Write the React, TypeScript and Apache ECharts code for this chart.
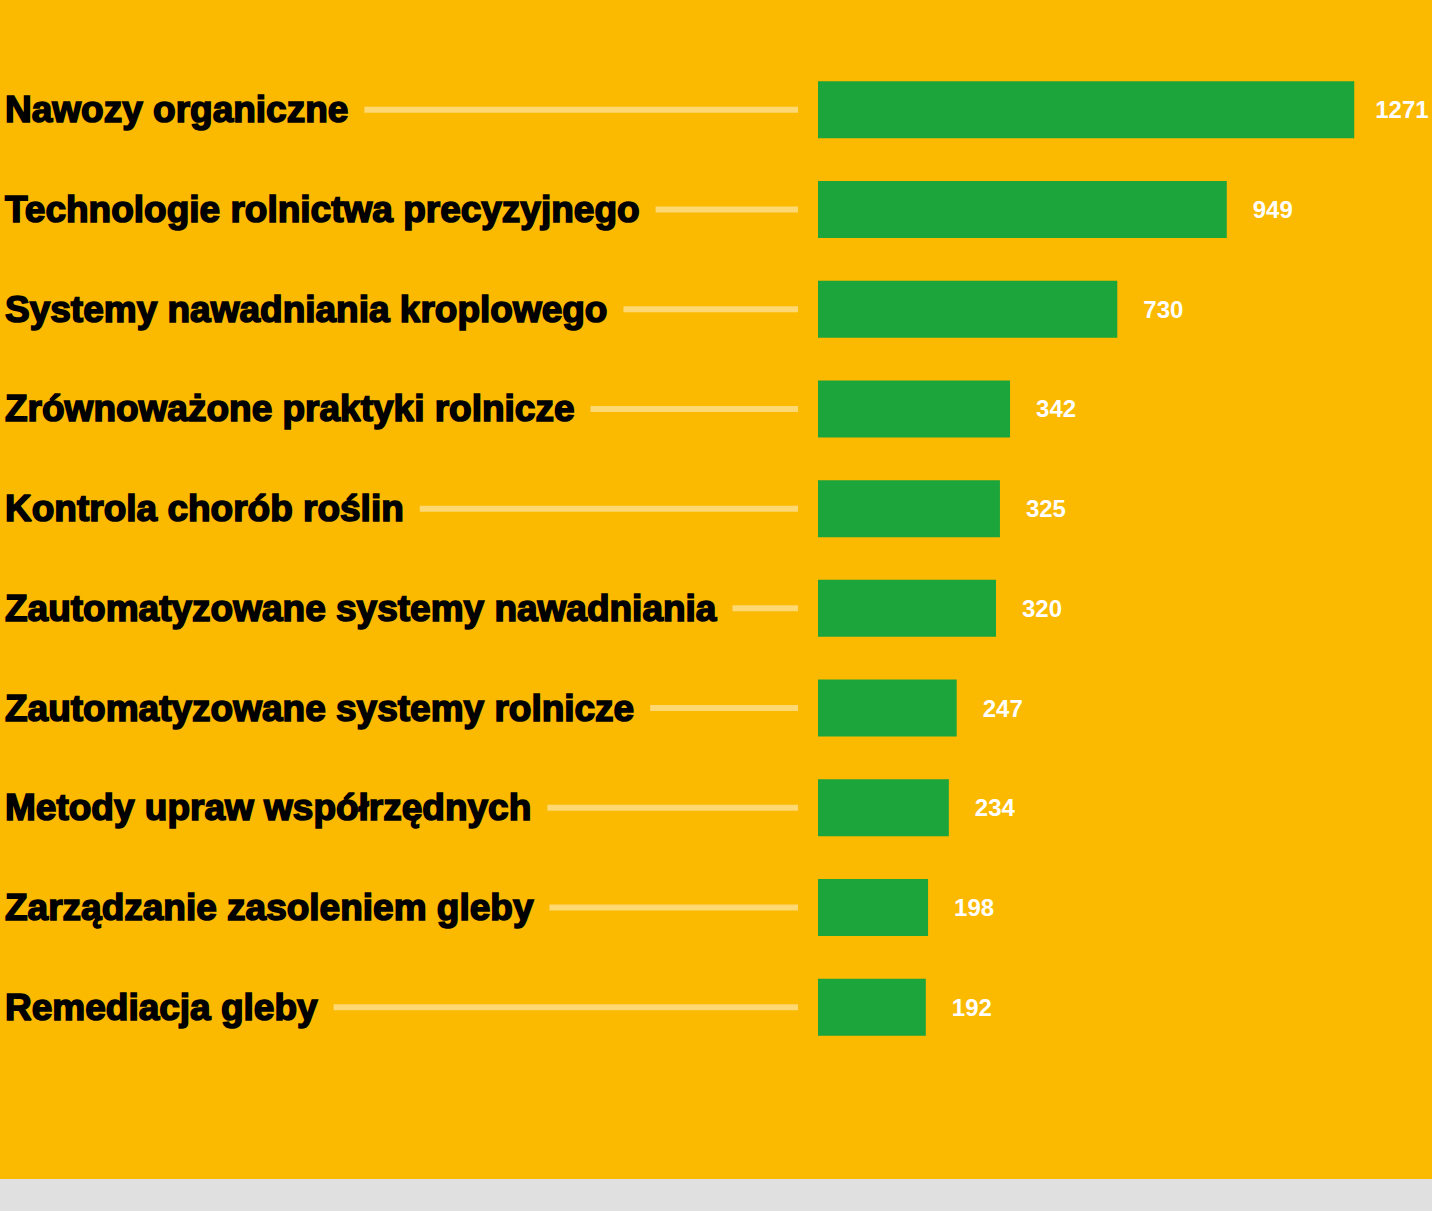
import React, { useEffect, useRef } from "react";
import * as echarts from "echarts";

const categories = [
  "Nawozy organiczne",
  "Technologie rolnictwa precyzyjnego",
  "Systemy nawadniania kroplowego",
  "Zrównoważone praktyki rolnicze",
  "Kontrola chorób roślin",
  "Zautomatyzowane systemy nawadniania",
  "Zautomatyzowane systemy rolnicze",
  "Metody upraw współrzędnych",
  "Zarządzanie zasoleniem gleby",
  "Remediacja gleby",
];
// values printed next to the bars
const values = [1271, 949, 730, 342, 325, 320, 247, 234, 198, 192];
// bar lengths as drawn in the picture (in axis units)
const barLengths = [955, 728, 533, 342, 324, 317, 247, 233, 196, 192];

const LABEL_SIZE = 37;
const LABEL_FAMILY = '"Liberation Sans", Arial, Helvetica, sans-serif';

function measureText(text: string): number {
  const ctx = document.createElement("canvas").getContext("2d");
  if (!ctx) return text.length * LABEL_SIZE * 0.55;
  ctx.font = `bold ${LABEL_SIZE}px ${LABEL_FAMILY}`;
  return ctx.measureText(text).width;
}

export default function App() {
  const ref = useRef<HTMLDivElement>(null);

  useEffect(() => {
    document.body.style.margin = "0";
    document.body.style.background = "#e0e0e0";
    if (!ref.current) return;
    const chart = echarts.init(ref.current, undefined, { renderer: "svg" });
    const widths = categories.map((c) => measureText(c));
    const labelMargin = 813;
    const maxIdx = barLengths.indexOf(Math.max(...barLengths));

    chart.setOption({
      animation: false,
      backgroundColor: "#FBB900",
      grid: { left: 818, right: 52.5, top: 60, bottom: 122, containLabel: false },
      xAxis: {
        type: "value",
        min: 0,
        max: 1000,
        show: false,
      },
      yAxis: {
        type: "category",
        data: categories,
        inverse: true,
        axisLine: { show: false },
        axisTick: { show: false },
        splitLine: { show: false },
        axisLabel: {
          align: "left",
          margin: labelMargin,
          color: "#000",
          fontSize: LABEL_SIZE,
          fontWeight: "bold",
          fontFamily: LABEL_FAMILY,
          textBorderColor: "#000",
          textBorderWidth: 1.6,
        },
      },
      series: [
        {
          type: "bar",
          data: barLengths.map((v, i) =>
            i === maxIdx ? { value: v, label: { distance: 21 } } : v
          ),
          barWidth: 57,
          itemStyle: { color: "#1CA53A" },
          label: {
            show: true,
            position: "right",
            distance: 26,
            color: "#fff",
            fontSize: 24,
            fontWeight: "bold",
            fontFamily: LABEL_FAMILY,
            formatter: (p: any) => String(values[p.dataIndex]),
          },
        },
        {
          type: "custom",
          z: 5,
          clip: false,
          data: categories.map((_, i) => [0, i]),
          encode: { x: 0, y: 1 },
          renderItem: (params: any, api: any) => {
            const idx = params.dataIndex;
            const pt = api.coord([0, idx]);
            const startX = pt[0] - labelMargin + widths[idx] + 16;
            const endX = pt[0] - 20;
            return {
              type: "line",
              shape: { x1: startX, y1: pt[1], x2: endX, y2: pt[1] },
              style: { stroke: "rgba(255,255,255,0.45)", lineWidth: 6 },
            };
          },
        },
      ],
    });
    return () => chart.dispose();
  }, []);

  return <div ref={ref} style={{ width: 1432, height: 1179 }} />;
}
